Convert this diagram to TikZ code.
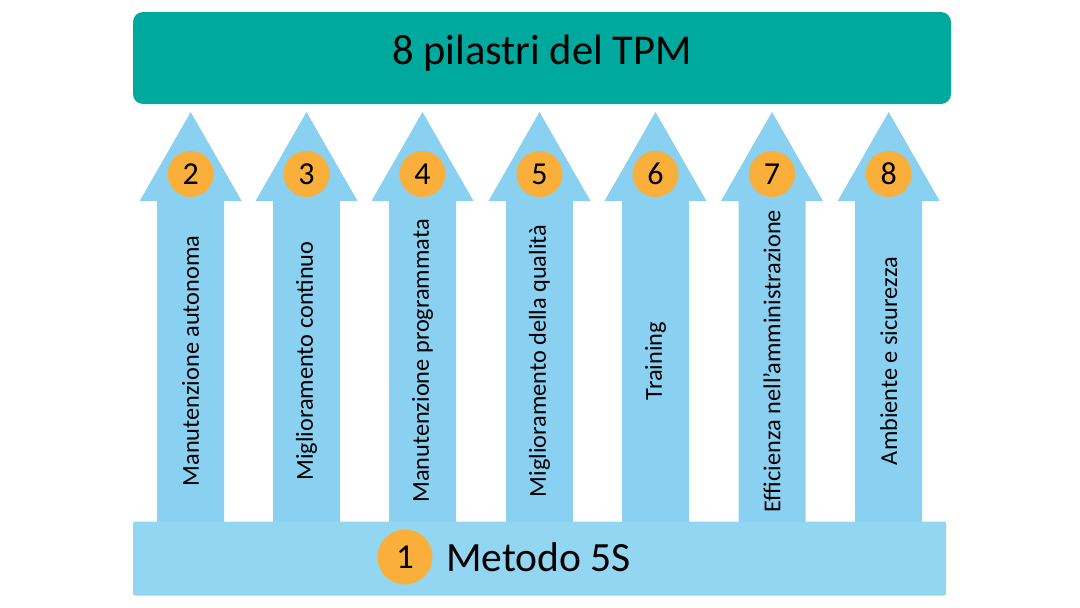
\documentclass[tikz,border=0pt]{standalone}
\usepackage{fontspec}
\setmainfont{Carlito}
\definecolor{teal1}{RGB}{0,169,157}
\definecolor{arrowblue}{RGB}{138,208,240}
\definecolor{barblue}{RGB}{147,214,241}
\definecolor{orange1}{RGB}{250,175,58}
\begin{document}
\begin{tikzpicture}[x=1pt,y=-1pt,
  pillar/.style={fill=arrowblue,draw=none},
  badge/.style={circle,fill=orange1,draw=none,minimum size=46pt,inner sep=0pt,font=\fontsize{32}{32}\selectfont},
  plabel/.style={rotate=90,font=\fontsize{24.3}{26}\selectfont,inner sep=0pt}]
\useasboundingbox (0,0) rectangle (1080,608);
% top bar
\node[fill=teal1,rounded corners=10pt,minimum width=818pt,minimum height=92pt,inner sep=0pt] (top) at (542,58) {};
\node[font=\fontsize{42.5}{44}\selectfont] (title) at (542,53) {8 pilastri del TPM};
% pillars
\foreach \i/\cx/\num/\txt in {0/190.7/2/Manutenzione autonoma,
  1/306.5/3/Miglioramento continuo,
  2/422.5/4/Manutenzione programmata,
  3/539.5/5/Miglioramento della qualità,
  4/655.5/6/Training,
  5/772/7/Efficienza nell’amministrazione,
  6/888.7/8/Ambiente e sicurezza}{
  \fill[pillar] (\cx-33.5,525) -- (\cx-33.5,201) -- (\cx-51,201) -- (\cx,112) -- (\cx+51,201) -- (\cx+33.5,201) -- (\cx+33.5,525) -- cycle;
  \node[badge] (b\num) at (\cx,174) {\num};
  \node[plabel] (l\num) at (\cx,361) {\txt};
}
% bottom bar
\node[fill=barblue,rounded corners=2pt,minimum width=813pt,minimum height=74pt,inner sep=0pt] (base) at (539.5,558.5) {};
\node[badge,minimum size=55pt,font=\fontsize{35}{35}\selectfont] (b1) at (405,557) {1};
\node[anchor=west,font=\fontsize{41.6}{43}\selectfont,inner sep=0pt] (metodo) at (446,557) {Metodo 5S};
\end{tikzpicture}
\end{document}
